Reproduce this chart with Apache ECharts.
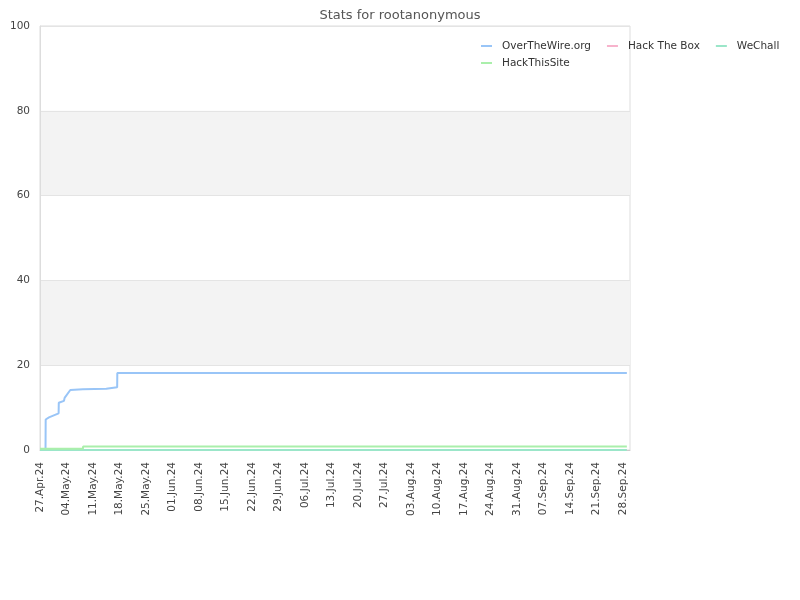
<!DOCTYPE html>
<html>
<head>
<meta charset="utf-8">
<script src="https://cdn.jsdelivr.net/npm/echarts@6/dist/echarts.min.js"></script>
<style>html,body{margin:0;padding:0;background:#fff}#c{width:800px;height:600px}</style>
</head>
<body>
<div id="c"></div>
<script>
var startDate = '2024-04-27 00:00';
var endDate = '2024-09-29 19:00';
var seriesNames = ['OverTheWire.org', 'Hack The Box', 'WeChall', 'HackThisSite'];
var seriesColors = ['#99c5f7', '#f7b3cc', '#9be6c9', '#aaefab'];

var overTheWire = [
  ['2024-04-28 11:00', 0], ['2024-04-28 12:00', 7.2], ['2024-04-29 09:00', 7.7],
  ['2024-05-01 22:00', 8.65], ['2024-05-01 23:00', 11.15], ['2024-05-03 08:00', 11.6],
  ['2024-05-03 12:00', 12.3], ['2024-05-05 00:00', 14.15], ['2024-05-08 08:00', 14.3],
  ['2024-05-14 12:00', 14.45], ['2024-05-14 13:00', 14.8], ['2024-05-17 09:00', 14.8],
  ['2024-05-17 10:00', 18.15], ['2024-09-28 23:00', 18.15]
];
var hackTheBox = [['2024-04-27 00:00', 0], ['2024-09-28 23:00', 0]];
var weChall = [['2024-04-27 00:00', 0], ['2024-09-28 23:00', 0]];
var hackThisSite = [
  ['2024-04-27 00:00', 0.3], ['2024-05-08 08:00', 0.3],
  ['2024-05-08 09:00', 0.8], ['2024-09-28 23:00', 0.8]
];
var monthNames = ['Jan','Feb','Mar','Apr','May','Jun','Jul','Aug','Sep','Oct','Nov','Dec'];

function toMs(s) {
  var p = s.split(/[- :]/).map(Number);
  return Date.UTC(p[0], p[1] - 1, p[2], p[3], p[4]);
}
var DAY = 86400000;
var t0 = toMs(startDate);
function toDay(s) { return (toMs(s) - t0) / DAY; }
function conv(arr) { return arr.map(function (d) { return [toDay(d[0]), d[1]]; }); }
function fmt(v) {
  var d = new Date(t0 + Math.round(v) * DAY);
  var dd = ('0' + d.getUTCDate()).slice(-2);
  return dd + '.' + monthNames[d.getUTCMonth()] + '.' + String(d.getUTCFullYear()).slice(-2);
}

var allData = [overTheWire, hackTheBox, weChall, hackThisSite];
var font = 'DejaVu Sans';
var legendText = {fontFamily: font, fontSize: 10.5, color: '#333', lineHeight: 12, padding: [0, 0, 0, 5]};

var chart = echarts.init(document.getElementById('c'), null, {renderer: 'canvas'});
chart.setOption({
  animation: false,
  backgroundColor: '#fff',
  title: {
    text: 'Stats for rootanonymous', left: 'center', top: 4,
    textStyle: {fontFamily: font, fontSize: 13, fontWeight: 'normal', color: '#555'}
  },
  legend: [{
    data: seriesNames.slice(0, 3), left: 481, top: 40, padding: 0, itemWidth: 11, itemHeight: 2, itemGap: 16,
    icon: 'rect', textStyle: legendText
  }, {
    data: seriesNames.slice(3), left: 481, top: 57, padding: 0, itemWidth: 11, itemHeight: 2, itemGap: 16,
    icon: 'rect', textStyle: legendText
  }],
  grid: {left: 40, right: 170, top: 26, bottom: 150, show: true, borderColor: '#ddd', borderWidth: 1,
         containLabel: false, outerBoundsMode: 'none'},
  xAxis: {
    type: 'value', min: 0, max: (toMs(endDate) - t0) / DAY, interval: 7,
    axisLine: {show: true, lineStyle: {color: '#ccc'}},
    axisTick: {show: false},
    splitLine: {show: false},
    axisLabel: {
      rotate: 90, margin: 12, fontFamily: font, fontSize: 10.5, color: '#444',
      showMaxLabel: false,
      formatter: function (v) { return fmt(v); }
    }
  },
  yAxis: {
    type: 'value', min: 0, max: 100, interval: 20,
    name: 'Percentage', nameLocation: 'middle', nameGap: 30, nameRotate: 90,
    nameTextStyle: {fontFamily: font, fontSize: 10.5, color: '#444'},
    axisLine: {show: true, lineStyle: {color: '#ddd'}},
    axisTick: {show: false},
    axisLabel: {fontFamily: font, fontSize: 10.5, color: '#444', margin: 10},
    splitLine: {show: true, lineStyle: {color: '#e4e4e4'}},
    splitArea: {show: true, areaStyle: {color: ['rgba(255,255,255,0)', '#f3f3f3']}}
  },
  series: seriesNames.map(function (n, i) {
    return {
      name: n, type: 'line', data: conv(allData[i]), showSymbol: false, symbol: 'none',
      lineStyle: {width: 2, color: seriesColors[i]}, itemStyle: {color: seriesColors[i]},
      clip: true
    };
  })
});
</script>
</body>
</html>
